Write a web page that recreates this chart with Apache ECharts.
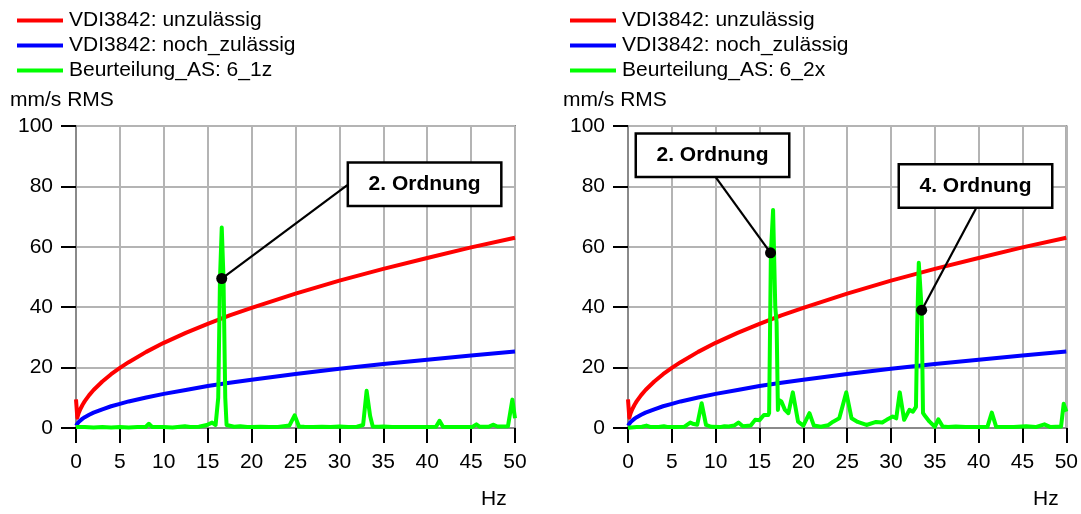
<!DOCTYPE html>
<html>
<head>
<meta charset="utf-8">
<script src="https://cdn.jsdelivr.net/npm/echarts@6/dist/echarts.min.js"></script>
<style>
  html, body { margin: 0; padding: 0; background: #fff; }
  #chart { width: 1081px; height: 514px; }
</style>
</head>
<body>
<div id="chart"></div>
<script>
// Limit curves of VDI 3842 (same in both panels): [Hz, mm/s RMS]
const limitHz          = [0, 0.15, 0.3, 0.5, 0.75, 1, 1.5, 2, 3, 4, 5, 6, 8, 10, 12.5, 15, 17.5, 20, 25, 30, 35, 40, 45, 50];
const limitUnzulaessig = [9.5, 3.4, 4.9, 6.3, 7.7, 8.9, 10.9, 12.6, 15.4, 17.8, 19.9, 21.8, 25.2, 28.2, 31.5, 34.5, 37.3, 39.8, 44.5, 48.8, 52.7, 56.3, 59.8, 63.0];
const limitNochZul     = [0.8, 1.4, 2.0, 2.5, 3.1, 3.6, 4.4, 5.1, 6.2, 7.2, 8.0, 8.8, 10.1, 11.3, 12.6, 13.9, 15.0, 16.0, 17.9, 19.6, 21.2, 22.6, 24.0, 25.3];

// Measured spectrum, point 6, direction z
const spec1zHz = [0, 1, 2, 3, 4, 5, 6, 7, 7.9, 8.3, 8.7, 10, 11, 12.4, 13, 14, 14.9, 15.5, 15.9,
  16.05, 16.2, 16.4, 16.6, 16.8, 17.0, 17.15, 18, 18.7, 19.5, 20, 21, 22, 23, 24.3, 24.9, 25.4,
  26, 27, 28, 29, 30, 31, 32, 32.7, 33.1, 33.5, 33.8, 34.5, 35, 36, 37, 38, 39, 40, 41, 41.4,
  41.8, 43, 44, 45.1, 45.6, 46, 47, 47.5, 48, 49.2, 49.7, 50];
const spec1zVal = [0.3, 0.3, 0.2, 0.3, 0.2, 0.3, 0.2, 0.3, 0.3, 1.4, 0.3, 0.3, 0.2, 0.6, 0.3, 0.4, 1.0, 1.8, 1.0,
  1.0, 10, 49.5, 66.4, 49.5, 10, 1.0, 0.4, 0.6, 0.3, 0.3, 0.4, 0.3, 0.3, 0.8, 4.2, 0.5,
  0.4, 0.3, 0.4, 0.3, 0.5, 0.3, 0.4, 1.0, 12.3, 4.0, 0.5, 0.4, 0.5, 0.3, 0.3, 0.3, 0.3, 0.3, 0.4, 2.4,
  0.4, 0.3, 0.3, 0.3, 1.2, 0.4, 0.4, 1.1, 0.5, 0.6, 9.4, 3.2];

// Measured spectrum, point 6, direction x
const spec2xHz = [0, 1, 1.6, 2.1, 2.6, 3.5, 4.1, 4.6, 5.5, 6.4, 7.1, 7.5, 7.9, 8.4, 8.9, 9.5, 10.5, 11, 11.5,
  12.1, 12.6, 13.1, 14, 14.5, 15, 15.5, 16.0, 16.1, 16.3, 16.55, 16.8, 16.95, 17.1, 17.2, 17.5, 17.9,
  18.3, 18.8, 19.4, 20, 20.7, 21.2, 22, 22.8, 23.4, 24.1, 24.9, 25.5, 26.2, 27.2, 28.3, 29.0, 29.5,
  30.2, 30.6, 31.0, 31.5, 32.1, 32.5, 32.85, 33.0, 33.17, 33.5, 33.65, 33.8, 34.4, 35, 35.4, 35.9,
  36.5, 37.4, 38.5, 39.5, 40.5, 41.0, 41.5, 42, 43, 44, 45.4, 46.5, 47.5, 48.2, 49.4, 49.7, 50];
const spec2xVal = [0.1, 0.3, 0.4, 0.8, 0.3, 0.3, 0.6, 0.3, 0.3, 0.4, 1.8, 1.3, 1.1, 8.2, 1.0, 0.4, 0.3, 0.6, 0.5,
  0.8, 1.8, 0.6, 0.8, 2.7, 2.6, 4.3, 4.3, 5, 58, 72.2, 40, 35, 6, 9.3, 8.8, 6,
  4.9, 11.8, 2.1, 0.8, 4.9, 0.8, 0.4, 0.9, 2.1, 3.2, 11.8, 3.2, 2.0, 1.0, 2.0, 1.8, 2.7,
  3.8, 3.2, 11.8, 2.7, 6, 5.4, 7, 35, 54.7, 39, 5, 4.3, 2.1, 0.4, 2.9, 0.5,
  0.3, 0.5, 0.3, 0.3, 0.3, 0.4, 5.1, 0.4, 0.3, 0.3, 0.6, 0.3, 1.2, 0.3, 0.5, 8, 5.4];

// Axis ticks
const xTicks = { min: 0, max: 50, step: 5 };
const yTicks = { min: 0, max: 100, step: 20 };

// Callouts: marked point, box centre and the box edge point where the leader starts (data coords)
const callouts1z = [
  { text: '2. Ordnung', point: [16.6, 49.5], box: [39.7, 80.7], edge: [30.9, 80.4] }
];
const callouts2x = [
  { text: '2. Ordnung', point: [16.26, 58], box: [9.64, 90.3], edge: [10.04, 82.9] },
  { text: '4. Ordnung', point: [33.5, 39], box: [39.64, 80.1], edge: [39.68, 72.6] }
];

const NAME_RED = 'VDI3842: unzulässig';
const NAME_BLUE = 'VDI3842: noch_zulässig';
const NAME_G1 = 'Beurteilung_AS: 6_1z';
const NAME_G2 = 'Beurteilung_AS: 6_2x';

const FONT = 'Arial, "Liberation Sans", Helvetica, sans-serif';
const FS = 21;
const pairs = (xs, ys) => xs.map((x, i) => [x, ys[i]]);

function xAxis(gridIndex) {
  return {
    type: 'value', gridIndex, min: xTicks.min, max: xTicks.max, interval: xTicks.step,
    axisLine: { show: true, onZero: false, lineStyle: { color: '#8a8a8a', width: 2 } },
    axisTick: { show: true, length: 15, lineStyle: { color: '#000', width: 2 } },
    axisLabel: { color: '#000', fontSize: FS, fontFamily: FONT, margin: 24 },
    splitLine: { show: true, lineStyle: { color: '#b4b4b4', width: 2 } }
  };
}
function yAxis(gridIndex) {
  return {
    type: 'value', gridIndex, min: yTicks.min, max: yTicks.max, interval: yTicks.step,
    axisLine: { show: true, lineStyle: { color: '#8a8a8a', width: 2 } },
    axisTick: { show: true, length: 15, lineStyle: { color: '#000', width: 2 } },
    axisLabel: { color: '#000', fontSize: FS, fontFamily: FONT, margin: 23 },
    splitLine: { show: true, lineStyle: { color: '#b4b4b4', width: 2 } }
  };
}
function curve(name, xs, ys, color, idx, z) {
  return {
    name, type: 'line', xAxisIndex: idx, yAxisIndex: idx, data: pairs(xs, ys),
    showSymbol: false, symbol: 'none', silent: true, z,
    lineStyle: { color, width: 4, join: 'round' }, itemStyle: { color }
  };
}
function calloutSeries(list, idx) {
  const out = [];
  list.forEach(c => {
    out.push({
      type: 'line', xAxisIndex: idx, yAxisIndex: idx, silent: true, z: 6,
      data: [c.edge, c.point], showSymbol: false, symbol: 'none',
      lineStyle: { color: '#000', width: 2.2 }
    });
  });
  out.push({
    type: 'scatter', xAxisIndex: idx, yAxisIndex: idx, silent: true, z: 7,
    data: list.map(c => c.point), symbol: 'circle', symbolSize: 11,
    itemStyle: { color: '#000', opacity: 1 }
  });
  out.push({
    type: 'scatter', xAxisIndex: idx, yAxisIndex: idx, silent: true, z: 8,
    data: list.map(c => ({ value: c.box, label: { formatter: c.text } })),
    symbol: 'rect', symbolSize: 1,
    itemStyle: { color: '#fff', opacity: 1 },
    label: {
      show: true, position: 'inside', color: '#000', fontSize: FS, fontWeight: 'bold', fontFamily: FONT,
      backgroundColor: '#fff', borderColor: '#000', borderWidth: 2.5,
      width: 151, height: 41, lineHeight: 41, align: 'center', verticalAlign: 'middle', padding: 0
    }
  });
  return out;
}
function legend(left, names) {
  return {
    left, top: 5, orient: 'vertical', itemGap: 4, itemWidth: 46, itemHeight: 4,
    icon: 'rect', selectedMode: false, data: names,
    textStyle: { color: '#000', fontSize: FS, fontFamily: FONT, lineHeight: 21, padding: [0, 0, 0, 1] }
  };
}
function label(text, left, top) {
  return { text, left, top, padding: 0, textStyle: { color: '#000', fontSize: FS, fontWeight: 'normal', fontFamily: FONT } };
}

const chart = echarts.init(document.getElementById('chart'), null, { renderer: 'canvas' });
chart.setOption({
  animation: false,
  backgroundColor: '#fff',
  title: [
    label('mm/s RMS', 10, 90), label('mm/s RMS', 563, 90),
    label('Hz', 481, 489), label('Hz', 1033, 489)
  ],
  legend: [
    legend(12, [NAME_RED, NAME_BLUE, NAME_G1]),
    legend(565, [NAME_RED, NAME_BLUE, NAME_G2])
  ],
  grid: [
    { left: 76, right: 566, top: 126, bottom: 86, show: true, borderColor: '#8a8a8a', borderWidth: 2 },
    { left: 628, right: 14, top: 126, bottom: 86, show: true, borderColor: '#8a8a8a', borderWidth: 2 }
  ],
  xAxis: [xAxis(0), xAxis(1)],
  yAxis: [yAxis(0), yAxis(1)],
  series: [
    curve(NAME_RED, limitHz, limitUnzulaessig, '#ff0000', 0, 3),
    curve(NAME_BLUE, limitHz, limitNochZul, '#0000ff', 0, 3),
    curve(NAME_G1, spec1zHz, spec1zVal, '#00ff00', 0, 4),
    curve(NAME_RED, limitHz, limitUnzulaessig, '#ff0000', 1, 3),
    curve(NAME_BLUE, limitHz, limitNochZul, '#0000ff', 1, 3),
    curve(NAME_G2, spec2xHz, spec2xVal, '#00ff00', 1, 4),
    ...calloutSeries(callouts1z, 0),
    ...calloutSeries(callouts2x, 1)
  ]
});
</script>
</body>
</html>
